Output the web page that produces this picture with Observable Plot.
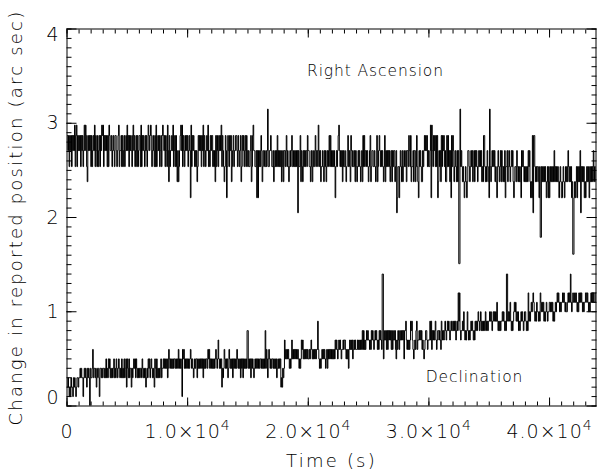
<!DOCTYPE html>
<html><head><meta charset="utf-8">
<script src="https://cdn.jsdelivr.net/npm/d3@7"></script>
<script src="https://cdn.jsdelivr.net/npm/@observablehq/plot@0.6"></script>
<style>html,body{margin:0;padding:0;background:#fff} svg{display:block}</style>
</head><body><div id="chart"></div>
<script>
// Quantized position levels (arc sec), keyed by code letter used in the series strings
const raLevels = {"0":1.51,"1":1.61,"2":1.79,"3":2.05,"4":2.21,"5":2.38,"6":2.54,"7":2.71,"8":2.87,"9":2.98,"T":3.15};
const decLevels = {"0":0.0,"1":0.1,"2":0.2,"3":0.3,"4":0.4,"5":0.5,"6":0.6,"7":0.7,"8":0.8,"9":0.9,"A":1.0,"B":1.1,"C":1.2,"D":1.3,"E":1.4};
const chunkSeconds = 1000; // each string below covers 1000 s of the time axis

// Right Ascension samples, 1000 s per string
const raSeries = [
"87868786878796896878","78687867979865878786","86787968768678687989","68787868698778678768","87678967786867867879",
"78687876897867868678","86968787687867987898","67876869678786786898","78687697586778796786","86575678979687687878",
"67874968787676756878","78687968767879676878","86767586876878796876","56874687687856786778","87687678568786786876",
"76678568977667474767","687567766767T6677876","67567676867676756757","76786765676786676767","67376685765767677687",
"76657657667867769767","56676576756767868676","76764676789767675766","76567867658767667576","56767656758686776765",
"67856776676568567876","76765685767676756757","67756734664676575676","67577687685667577568","65476765576787878676",
"67949768786868457675","86878675586867574868","75676575700T67656545","65457765676756757676","56767675658865657654",
"T6567676756546765675","76565746675676567675","45665765656547676565","65657675454838865656","65462265656565456464",
"56565657565656545654","45654565657656564511","45456465657365656454","56565465656576565656"
];
// Declination samples, 1000 s per string
const decSeries = [
"23212132213232123323","34343313434324343043","34634434234431443434","43435343545343434534","35434543435343534525",
"43534424345453543434","34435434342343545345","43432543534343453445","45454534654545454554","54546454541656454545",
"45456545434545535454","54545354545546564545","45454565457545452434","65454534654545354545","46545453545354545488",
"45453545434545454545","54545454846535654545","54545453454545232434","75656565454575656565","65654545767565656565",
"56567656565656696545","45656565456465656565","65657676567676566767","76565646767675676766","67676767686867678787",
"76768787678787676878","76EE5787868687878686","78786576876878787858","89767676798976567689","67787878676567887677",
"79796878789767887876","98787898789898789889","89897898C9C878898A87","878A8787898987879898","9A989A8989898A989899",
"A9A989A9A9A9B9898989","9A9A9898EE9A9AB98989","ABAB9A9A8989A9A989AA","9898C9A9ABABCBA9A9BA","A9A9CBABAB9A9ABA9AAB",
"BABAB9A9ABABCBCBABAB","BCBCBABAABCBCBEBABCB","BCBCBABACBCBCBABABBC","CBCBABABCBCBCBBCBCBC"
];

const xDomain = [0, 43850];
const yDomain = [0, 4];
const xMajor = [0, 10000, 20000, 30000, 40000];
const xTickText = ["0", "1.0×10^4", "2.0×10^4", "3.0×10^4", "4.0×10^4"];
const xMinorStep = 1000;
const yMajorMid = [1, 2, 3];
const yMinorStep = 0.1;

const seriesNames = ["Right Ascension", "Declination"];
const labelX = [25570, 33780];
const labelY = [3.555, 0.307];

function decode(chunks, levels) {
  const out = [];
  chunks.forEach((s, c) => {
    for (let j = 0; j < s.length; j++) {
      out.push({t: c * chunkSeconds + (j + 1) * chunkSeconds / s.length, v: levels[s[j]]});
    }
  });
  return out;
}
const ra = decode(raSeries, raLevels);
const dec = decode(decSeries, decLevels);
const annotations = seriesNames.map((name, i) => ({name, x: labelX[i], y: labelY[i]}));

const xMinor = d3.range(0, xDomain[1] + 1, xMinorStep);
const yMinor = d3.range(0, 40.5, 1).map(d => d * yMinorStep);
const blank = () => "";
const F = "DejaVu Sans";

const svg = Plot.plot({
  width: 597, height: 470,
  marginLeft: 66.5, marginRight: 1.5, marginTop: 28.5, marginBottom: 64.5,
  x: {domain: xDomain},
  y: {domain: yDomain},
  style: {fontFamily: F, fontSize: "19px", color: "black", background: "white", overflow: "visible"},
  marks: [
    Plot.lineY(ra, {x: "t", y: "v", stroke: "black", strokeWidth: 1, curve: "step", clip: true}),
    Plot.lineY(dec, {x: "t", y: "v", stroke: "black", strokeWidth: 1, curve: "step", clip: true}),
    Plot.frame({stroke: "black", strokeWidth: 1}),
    // bottom axis
    Plot.axisX({anchor: "bottom", ticks: xMinor, tickSize: -4, tickFormat: blank, label: null}),
    Plot.axisX({anchor: "bottom", ticks: xMajor, tickSize: -8, tickFormat: blank, label: null}),
    Plot.axisX({anchor: "bottom", ticks: xMajor, tickSize: 0, tickPadding: 18.5, fontSize: 19,
      tickFormat: (d, i) => xTickText[xMajor.indexOf(d)],
      label: "Time (s)", labelAnchor: "center", labelOffset: 61, labelArrow: "none"}),
    // top axis
    Plot.axisX({anchor: "top", ticks: xMinor, tickSize: -4, tickFormat: blank, label: null}),
    Plot.axisX({anchor: "top", ticks: xMajor, tickSize: -8, tickFormat: blank, label: null}),
    // left axis
    Plot.axisY({anchor: "left", ticks: yMinor, tickSize: -5, tickFormat: blank, label: null}),
    Plot.axisY({anchor: "left", ticks: [0, 1, 2, 3, 4], tickSize: -10, tickFormat: blank, label: null}),
    Plot.axisY({anchor: "left", ticks: yMajorMid, tickSize: 0, tickPadding: 8.5, fontSize: 19,
      tickFormat: d => String(d),
      label: "Change in reported position (arc sec)", labelAnchor: "center", labelOffset: 57.5, labelArrow: "none"}),
    Plot.axisY({anchor: "left", ticks: [0], tickSize: 0, tickPadding: 8.5, fontSize: 19, dy: -8, tickFormat: d => String(d), label: null}),
    Plot.axisY({anchor: "left", ticks: [4], tickSize: 0, tickPadding: 8.5, fontSize: 19, dy: 6, tickFormat: d => String(d), label: null}),
    // right axis
    Plot.axisY({anchor: "right", ticks: yMinor, tickSize: -5, tickFormat: blank, label: null}),
    Plot.axisY({anchor: "right", ticks: [0, 1, 2, 3, 4], tickSize: -10, tickFormat: blank, label: null}),
    // series annotations
    Plot.text(annotations, {x: "x", y: "y", text: "name", fontSize: 15.5, fontFamily: F, fill: "black", textAnchor: "middle", lineAnchor: "middle"})
  ]
});

// superscripts for the x tick labels
d3.select(svg).selectAll("text").each(function() {
  const s = this.textContent;
  const m = s.match(/^(.*)\^(\d+)$/);
  if (m) {
    const el = d3.select(this);
    el.text(null);
    el.append("tspan").text(m[1]);
    el.append("tspan").attr("dy", -8.5).attr("font-size", "14px").text(m[2]);
  }
});
// thin, widely spaced lettering like the vector font of the original
d3.select(svg).selectAll("text").style("font-weight", "200");
d3.select(svg).selectAll('g[aria-label="x-axis label"] text, g[aria-label="y-axis label"] text').style("letter-spacing", "2.2px").style("font-size", "18px");
d3.select(svg).selectAll('g[aria-label="x-axis tick label"] text').style("letter-spacing", "1px");
d3.select(svg).selectAll('g[aria-label="text"] text').style("letter-spacing", "0.9px");

document.getElementById("chart").appendChild(svg);
</script>
</body></html>
